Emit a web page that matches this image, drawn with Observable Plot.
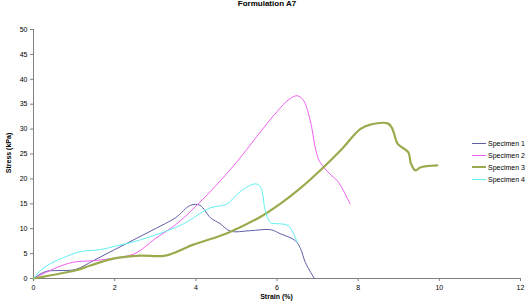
<!DOCTYPE html>
<html><head><meta charset="utf-8">
<script src="https://cdn.jsdelivr.net/npm/d3@7"></script>
<script src="https://cdn.jsdelivr.net/npm/@observablehq/plot@0.6"></script>
<style>
body{margin:0;background:#fff;font-family:"Liberation Sans",Arial,sans-serif;}
#wrap{position:relative;width:529px;height:305px;overflow:hidden;background:#fff;}
#title{position:absolute;left:0;width:534px;text-align:center;top:-1px;font-size:8px;font-weight:bold;color:#000;line-height:9px;}
#xlab{position:absolute;left:33px;width:487px;text-align:center;top:293px;font-size:7px;font-weight:bold;color:#000;}
#ylab{position:absolute;left:8px;top:153px;font-size:7px;font-weight:bold;color:#000;transform:translate(-50%,-50%) rotate(-90deg);white-space:nowrap;}
#legend{position:absolute;left:472px;top:137px;font-size:7px;color:#000;}
#legend div{height:12px;display:flex;align-items:center;}
#legend span.sw{display:inline-block;width:14px;margin-right:2px;}
#chart{position:absolute;left:0;top:0;}
</style>
</head><body>
<div id="wrap">
<div id="chart"></div>
<div id="title"></div>
<div id="xlab"></div>
<div id="ylab"></div>
<div id="legend"></div>
</div>
<script>
const chartTitle = "Formulation A7";
const xLabel = "Strain (%)";
const yLabel = "Stress (kPa)";
const seriesNames = ["Specimen 1", "Specimen 2", "Specimen 3", "Specimen 4"];
const seriesColors = ["#5e5eaa", "#f060f0", "#9aab4d", "#60f0f0"];
const seriesWidths = [1, 1, 2.2, 1];
const xTicks = [0, 2, 4, 6, 8, 10, 12];
const yTicks = [0, 5, 10, 15, 20, 25, 30, 35, 40, 45, 50];

const s1x = [0, 0.3, 0.6, 1.03, 1.5, 2.0, 2.5, 3.0, 3.5, 3.87, 4.1, 4.36, 4.6, 4.85, 5.34, 5.84, 6.08, 6.45, 6.58, 6.7, 6.92];
const s1y = [0, 1.4, 1.6, 1.8, 3.7, 5.8, 7.9, 10.0, 12.2, 14.7, 14.7, 12.2, 11.0, 9.5, 9.6, 9.8, 9.0, 7.6, 6.0, 3.2, 0];

const s2x = [0, 0.3, 0.7, 1.0, 1.5, 2.0, 2.5, 3.0, 3.5, 4.0, 4.5, 5.0, 5.5, 6.0, 6.3, 6.5, 6.65, 6.82, 6.95, 7.05, 7.3, 7.5, 7.8];
const s2y = [0, 1.2, 2.6, 3.3, 3.6, 4.1, 5.0, 8.0, 10.8, 14.5, 18.7, 23.3, 28.5, 33.5, 36.0, 36.7, 35.8, 31.7, 26.0, 23.5, 21.0, 19.5, 15.0];

const s3x = [0, 0.4, 1.03, 1.4, 1.97, 2.63, 3.25, 3.94, 4.8, 5.64, 6.08, 6.6, 7.14, 7.6, 8.05, 8.3, 8.74, 8.84, 8.97, 9.09, 9.24, 9.3, 9.41, 9.53, 9.95];
const s3y = [0, 0.6, 1.6, 2.6, 4.0, 4.6, 4.6, 6.8, 9.2, 12.6, 15.0, 18.3, 22.3, 26.0, 30.0, 30.9, 31.1, 30.1, 27.1, 26.3, 25.3, 23.1, 21.7, 22.3, 22.7];

const s4x = [0, 0.17, 0.42, 0.74, 1.16, 1.65, 2.07, 2.39, 2.88, 3.3, 3.7, 4.36, 4.75, 5.1, 5.47, 5.6, 5.71, 5.84, 6.03, 6.28, 6.5];
const s4y = [0, 1.6, 3.0, 4.2, 5.4, 5.8, 6.6, 7.2, 8.4, 9.6, 11.0, 14.2, 14.9, 17.5, 19.0, 18.3, 13.7, 11.2, 11.0, 10.6, 7.2];

const xs = [s1x, s2x, s3x, s4x];
const ys = [s1y, s2y, s3y, s4y];
const data = [];
seriesNames.forEach((name, i) => {
  xs[i].forEach((x, j) => data.push({series: name, strain: x, stress: ys[i][j]}));
});

const axisColor = "#808080";
const lineMarks = seriesNames.map((name, i) =>
  Plot.line(data.filter(d => d.series === name), {
    x: "strain", y: "stress", stroke: seriesColors[i], strokeWidth: seriesWidths[i], curve: "catmull-rom"
  })
);

const chart = Plot.plot({
  width: 529, height: 305,
  marginLeft: 33, marginRight: 9, marginTop: 29, marginBottom: 27,
  style: {fontFamily: "'Liberation Sans', Arial, sans-serif", fontSize: "7px", color: "#000", background: "#fff"},
  x: {domain: [0, 12], label: null},
  y: {domain: [0, 50], label: null},
  marks: [
    Plot.axisX({ticks: xTicks, tickSize: 3, tickPadding: 4, stroke: axisColor, fill: "#000", label: null}),
    Plot.axisY({ticks: yTicks, tickSize: 3, tickPadding: 3, stroke: axisColor, fill: "#000", label: null}),
    Plot.ruleY([0], {stroke: axisColor}),
    Plot.ruleX([0], {stroke: axisColor}),
    ...lineMarks
  ]
});
document.getElementById("chart").appendChild(chart);
document.getElementById("title").textContent = chartTitle;
document.getElementById("xlab").textContent = xLabel;
document.getElementById("ylab").textContent = yLabel;
const leg = document.getElementById("legend");
seriesNames.forEach((name, i) => {
  const row = document.createElement("div");
  const sw = document.createElement("span");
  sw.className = "sw";
  sw.style.borderTop = (seriesWidths[i] > 1 ? 2 : 1) + "px solid " + seriesColors[i];
  row.appendChild(sw);
  row.appendChild(document.createTextNode(name));
  leg.appendChild(row);
});
</script>
</body></html>
